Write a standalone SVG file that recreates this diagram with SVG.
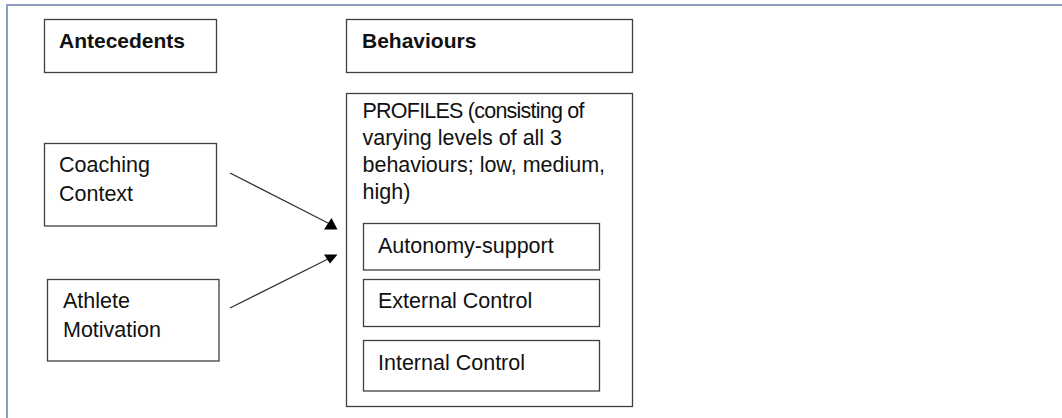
<svg xmlns="http://www.w3.org/2000/svg" width="1062" height="418" viewBox="0 0 1062 418">
<style>
.box{fill:#fff;stroke:#404040;stroke-width:1.3}
.t{font-family:"Liberation Sans",Arial,sans-serif;font-size:21.5px;fill:#111}
.b{font-weight:bold;font-size:21px}
.frame{stroke:#8e9dc0;stroke-width:2;fill:none}
.line{stroke:#333;stroke-width:1.3;fill:none}
.head{fill:#000}
</style>
<rect width="1062" height="418" fill="#fff"/>
<path class="frame" d="M7,418 V5 H1062"/>
<g id="antecedents">
<rect class="box" x="44.5" y="19.5" width="172" height="53"/>
<text class="t b" x="59" y="48">Antecedents</text>
</g>
<g id="behaviours">
<rect class="box" x="346.5" y="19.5" width="286" height="53"/>
<text class="t b" x="362" y="48">Behaviours</text>
</g>
<g id="coaching-context">
<rect class="box" x="44.5" y="143.5" width="172" height="82.5"/>
<text class="t" x="59" y="171.5">Coaching</text>
<text class="t" x="59" y="201">Context</text>
</g>
<g id="athlete-motivation">
<rect class="box" x="47.5" y="279.5" width="171.5" height="81.5"/>
<text class="t" x="63" y="307.5">Athlete</text>
<text class="t" x="63" y="337">Motivation</text>
</g>
<g id="profiles">
<rect class="box" x="346.5" y="93.5" width="286" height="313"/>
<text class="t" x="362.5" y="118" textLength="222" lengthAdjust="spacing">PROFILES (consisting of</text>
<text class="t" x="362.5" y="145">varying levels of all 3</text>
<text class="t" x="362.5" y="172">behaviours; low, medium,</text>
<text class="t" x="362.5" y="199">high)</text>
</g>
<g id="autonomy-support">
<rect class="box" x="363.5" y="223.5" width="236" height="46.5"/>
<text class="t" x="378" y="253">Autonomy-support</text>
</g>
<g id="external-control">
<rect class="box" x="363.5" y="279.5" width="236" height="47"/>
<text class="t" x="378" y="308">External Control</text>
</g>
<g id="internal-control">
<rect class="box" x="363.5" y="340.5" width="236" height="50.5"/>
<text class="t" x="378" y="370">Internal Control</text>
</g>
<g id="connectors">
<line class="line" x1="230" y1="173" x2="330" y2="224"/>
<polygon class="head" points="331.5,218 324,229.5 337.5,229.5"/>
<line class="line" x1="230" y1="308" x2="328" y2="259"/>
<polygon class="head" points="324,254.5 337.5,254.5 330,263.5"/>
</g>
</svg>
